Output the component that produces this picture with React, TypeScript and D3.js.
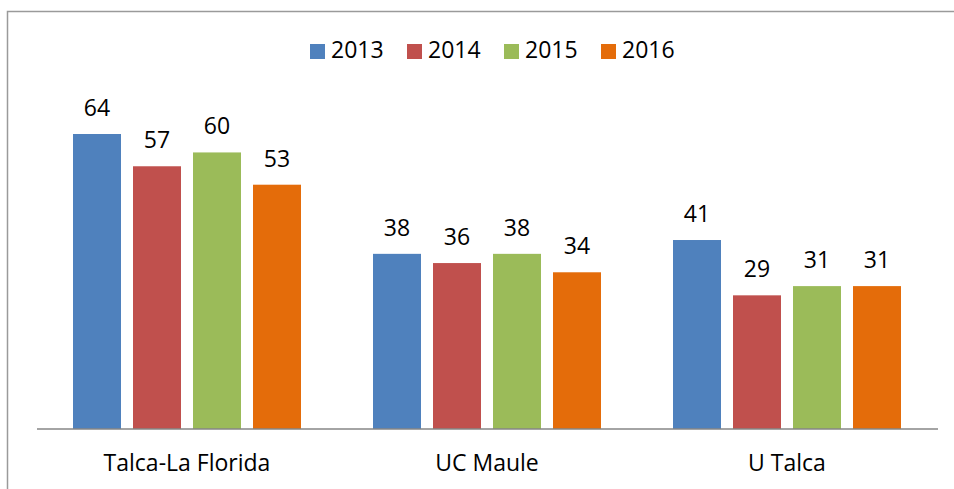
import * as React from 'react';
import * as d3 from 'd3';

const categories = ['Talca-La Florida', 'UC Maule', 'U Talca'];
const years = ['2013', '2014', '2015', '2016'];
const values2013 = [64, 38, 41];
const values2014 = [57, 36, 29];
const values2015 = [60, 38, 31];
const values2016 = [53, 34, 31];
const colors = ['#4F81BD', '#C0504D', '#9BBB59', '#E46C0A'];

const series = [values2013, values2014, values2015, values2016];

export default function App() {
  const ref = React.useRef<SVGSVGElement>(null);

  React.useEffect(() => {
    const width = 954;
    const height = 489;
    const font = 'Open Sans, Lato, sans-serif';

    const svg = d3.select(ref.current);
    svg.selectAll('*').remove();
    svg.attr('width', width).attr('height', height);

    svg.append('rect')
      .attr('x', 7.5).attr('y', 11.5)
      .attr('width', 1000).attr('height', 600)
      .attr('fill', 'white')
      .attr('stroke', '#9a9a9a')
      .attr('stroke-width', 1.5);

    const x0 = d3.scaleBand().domain(categories).range([37, 937]).padding(0);
    const x1 = d3.scaleBand().domain(years)
      .range([36, x0.bandwidth() - 36])
      .paddingInner(0.2).paddingOuter(0);
    const y = d3.scaleLinear().domain([0, 64]).range([429, 134]);

    categories.forEach((cat, ci) => {
      const g = svg.append('g').attr('transform', `translate(${x0(cat)},0)`);
      years.forEach((yr, si) => {
        const v = series[si][ci];
        g.append('rect')
          .attr('x', x1(yr)!)
          .attr('y', y(v))
          .attr('width', x1.bandwidth())
          .attr('height', y(0) - y(v))
          .attr('fill', colors[si]);
        g.append('text')
          .attr('x', x1(yr)! + x1.bandwidth() / 2)
          .attr('y', y(v) - 18)
          .attr('text-anchor', 'middle')
          .attr('font-family', font)
          .attr('font-size', 23)
          .attr('fill', '#000')
          .text(v);
      });
      svg.append('text')
        .attr('x', x0(cat)! + x0.bandwidth() / 2)
        .attr('y', 471)
        .attr('text-anchor', 'middle')
        .attr('font-family', font)
        .attr('font-size', 23)
        .attr('fill', '#000')
        .text(cat);
    });

    svg.append('line')
      .attr('x1', 37).attr('x2', 938)
      .attr('y1', 429).attr('y2', 429)
      .attr('stroke', '#868686')
      .attr('stroke-width', 1.5);

    // legend
    const legend = svg.append('g');
    years.forEach((yr, i) => {
      const lx = 310 + i * 97;
      legend.append('rect')
        .attr('x', lx).attr('y', 44)
        .attr('width', 15).attr('height', 15)
        .attr('fill', colors[i]);
      legend.append('text')
        .attr('x', lx + 21).attr('y', 58)
        .attr('font-family', font)
        .attr('font-size', 23)
        .attr('fill', '#000')
        .text(yr);
    });
  }, []);

  return <svg ref={ref} style={{ position: 'absolute', left: 0, top: 0 }}></svg>;
}
